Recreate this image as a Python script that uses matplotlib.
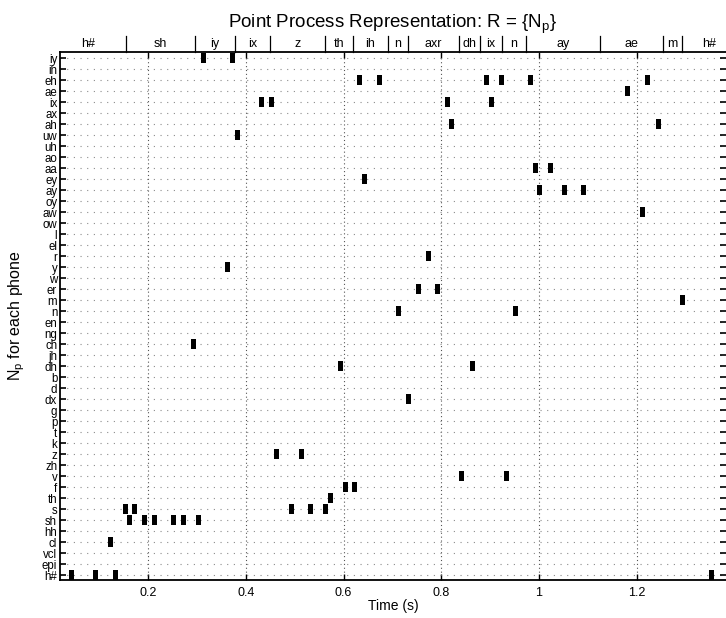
import numpy as np
import matplotlib
matplotlib.use("Agg")
import matplotlib.pyplot as plt
import matplotlib.transforms as mtransforms

plt.rcParams["font.family"] = ["Liberation Sans", "DejaVu Sans"]
plt.rcParams["mathtext.default"] = "regular"

# phone inventory, bottom (h#) to top (iy)
phones = [
    "h#", "epi", "vcl", "cl", "hh", "sh", "s", "th", "f", "v", "zh", "z",
    "k", "t", "p", "g", "dx", "d", "b", "dh", "jh", "ch", "ng", "en", "n",
    "m", "er", "w", "y", "r", "el", "l", "ow", "aw", "oy", "ay", "ey", "aa",
    "ao", "uh", "uw", "ah", "ax", "ix", "ae", "eh", "ih", "iy",
]

# detected events (s) per phone detector
events = {
    "iy": [0.313, 0.372],
    "eh": [0.632, 0.673, 0.893, 0.923, 0.983, 1.223],
    "ae": [1.182],
    "ix": [0.432, 0.453, 0.813, 0.903],
    "ah": [0.821, 1.244],
    "uw": [0.383],
    "aa": [0.992, 1.023],
    "ey": [0.642],
    "ay": [1.002, 1.053, 1.092],
    "aw": [1.213],
    "r": [0.773],
    "y": [0.362],
    "er": [0.753, 0.792],
    "m": [1.293],
    "n": [0.712, 0.953],
    "ch": [0.293],
    "dh": [0.593, 0.863],
    "dx": [0.733],
    "z": [0.462, 0.513],
    "v": [0.842, 0.933],
    "f": [0.603, 0.622],
    "th": [0.573],
    "s": [0.153, 0.172, 0.493, 0.532, 0.563],
    "sh": [0.162, 0.192, 0.213, 0.252, 0.272, 0.303],
    "cl": [0.123],
    "h#": [0.043, 0.092, 0.133, 1.353],
}

# phonetic transcription on top
seg_labels = ["h#", "sh", "iy", "ix", "z", "th", "ih", "n", "axr", "dh",
              "ix", "n", "ay", "ae", "m", "h#"]
seg_bounds = [0.0, 0.154, 0.296, 0.378, 0.449, 0.562, 0.619, 0.691, 0.732,
              0.836, 0.879, 0.924, 0.973, 1.125, 1.253, 1.292, 1.406]

XMIN, XMAX = 0.0194, 1.383

fig = plt.figure(figsize=(7.26, 6.18), dpi=100)
ax = fig.add_axes([60 / 726, 38 / 618, 666 / 726, 528 / 618])

for name, times in events.items():
    yi = phones.index(name)
    ax.bar(times, 0.95, bottom=yi - 0.475, width=0.0103, color="k",
           align="center", zorder=3)

ax.set_xlim(XMIN, XMAX)
ax.set_ylim(-0.45, len(phones) - 0.45)
ax.set_xticks([0.2, 0.4, 0.6, 0.8, 1.0, 1.2])
ax.set_xticklabels(["0.2", "0.4", "0.6", "0.8", "1", "1.2"])
ax.set_yticks(np.arange(len(phones)))
ax.set_yticklabels(phones)
ax.tick_params(axis="y", labelsize=8.3, direction="in", right=True, length=4.5,
               width=1.2, pad=2)
ax.tick_params(axis="x", labelsize=9, direction="in", top=True, length=4.5,
               width=1.0, pad=5)

ax.xaxis.grid(True, linestyle=(0, (1, 2.5)), color="#555555", linewidth=0.8)
ax.yaxis.grid(True, linestyle=(0, (1, 5)), color="#8c8c8c", linewidth=0.8)
ax.set_axisbelow(True)

for side in ["top", "bottom", "left"]:
    ax.spines[side].set_linewidth(1.3)
ax.spines["right"].set_visible(False)

ax.set_xlabel("Time (s)", fontsize=10)
ax.xaxis.set_label_coords(0.5, -0.036)
ax.set_ylabel("N$_p$ for each phone", fontsize=11.5)
ax.yaxis.set_label_coords(-0.05, 0.5)

# segment boundaries and labels above the axes
trans = mtransforms.blended_transform_factory(ax.transData, ax.transAxes)
for b in seg_bounds:
    if XMIN < b < XMAX:
        ax.plot([b, b], [1.0, 1.031], color="k", linewidth=0.9,
                transform=trans, clip_on=False)
for lab, a, b in zip(seg_labels, seg_bounds[:-1], seg_bounds[1:]):
    ax.text((a + b) / 2, 1.015, lab, transform=trans, ha="center",
            va="center", fontsize=9)

fig.text((60 + 726) / 2 / 726, 1 - 28 / 618,
         "Point Process Representation: R = {N$_p$}",
         ha="center", va="baseline", fontsize=13.5)

fig.savefig("out.png", dpi=100)
